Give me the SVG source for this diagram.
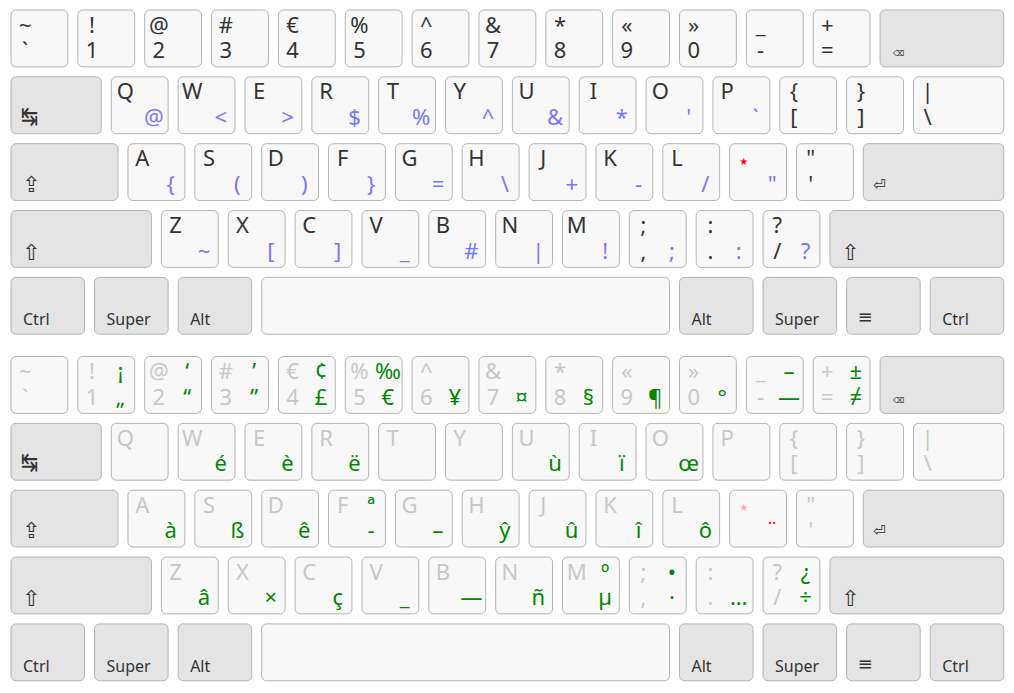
<svg xmlns="http://www.w3.org/2000/svg" width="1014" height="693" viewBox="0 0 1014 693">
<style>
text{font-family:"Noto Sans","DejaVu Sans",sans-serif;font-size:22px;fill:#333;text-anchor:middle}
rect{rx:5px;ry:5px;stroke:#b4b4b4;stroke-width:1}
.k{fill:#f8f8f8}
.m{fill:#e4e4e4}
.mt{font-size:16px;text-anchor:start}
.sym{font-family:"DejaVu Sans",sans-serif;text-anchor:start}
.bs{font-size:8px}
.ent{font-size:15px}
.sh{font-size:22px}
.tb{font-size:26px}
.mn{font-size:18px}
.b{fill:#7777ff}
.g{fill:#c8c8c8}
.gr{fill:#008800}
.st{font-family:"DejaVu Sans",sans-serif;font-size:10px;fill:#f00}
.stp{fill:#ffaaaa}
.rd{fill:#f00}
</style>
<g id="layer-base">
<g id="t-grave" transform="translate(11,10)"><rect class="k" width="56.85" height="56.85"/><text x="14.2" y="22.5">~</text><text x="14.2" y="48">`</text></g>
<g id="t-1" transform="translate(77.85,10)"><rect class="k" width="56.85" height="56.85"/><text x="14.2" y="22.5">!</text><text x="14.2" y="48">1</text></g>
<g id="t-2" transform="translate(144.7,10)"><rect class="k" width="56.85" height="56.85"/><text x="14.2" y="22.5">@</text><text x="14.2" y="48">2</text></g>
<g id="t-3" transform="translate(211.55,10)"><rect class="k" width="56.85" height="56.85"/><text x="14.2" y="22.5">#</text><text x="14.2" y="48">3</text></g>
<g id="t-4" transform="translate(278.4,10)"><rect class="k" width="56.85" height="56.85"/><text x="14.2" y="22.5">€</text><text x="14.2" y="48">4</text></g>
<g id="t-5" transform="translate(345.25,10)"><rect class="k" width="56.85" height="56.85"/><text x="14.2" y="22.5">%</text><text x="14.2" y="48">5</text></g>
<g id="t-6" transform="translate(412.1,10)"><rect class="k" width="56.85" height="56.85"/><text x="14.2" y="22.5">^</text><text x="14.2" y="48">6</text></g>
<g id="t-7" transform="translate(478.95,10)"><rect class="k" width="56.85" height="56.85"/><text x="14.2" y="22.5">&amp;</text><text x="14.2" y="48">7</text></g>
<g id="t-8" transform="translate(545.8,10)"><rect class="k" width="56.85" height="56.85"/><text x="14.2" y="22.5">*</text><text x="14.2" y="48">8</text></g>
<g id="t-9" transform="translate(612.65,10)"><rect class="k" width="56.85" height="56.85"/><text x="14.2" y="22.5">«</text><text x="14.2" y="48">9</text></g>
<g id="t-0" transform="translate(679.5,10)"><rect class="k" width="56.85" height="56.85"/><text x="14.2" y="22.5">»</text><text x="14.2" y="48">0</text></g>
<g id="t-minus" transform="translate(746.35,10)"><rect class="k" width="56.85" height="56.85"/><text x="14.2" y="22.5">_</text><text x="14.2" y="48">-</text></g>
<g id="t-equal" transform="translate(813.2,10)"><rect class="k" width="56.85" height="56.85"/><text x="14.2" y="22.5">+</text><text x="14.2" y="48">=</text></g>
<g id="t-bksp" transform="translate(880.05,10)"><rect class="m" width="123.7" height="56.85"/><text class="sym bs" x="13" y="46">⌫</text></g>

<g id="t-tab" transform="translate(11,76.85)"><rect class="m" width="90.28" height="56.85"/><text class="sym tb" transform="translate(10,48) scale(0.8,1)">↹</text></g>
<g id="t-q" transform="translate(111.28,76.85)"><rect class="k" width="56.85" height="56.85"/><text x="14.2" y="22.5">Q</text><text class="b" x="42.6" y="48">@</text></g>
<g id="t-w" transform="translate(178.13,76.85)"><rect class="k" width="56.85" height="56.85"/><text x="14.2" y="22.5">W</text><text class="b" x="42.6" y="48">&lt;</text></g>
<g id="t-e" transform="translate(244.98,76.85)"><rect class="k" width="56.85" height="56.85"/><text x="14.2" y="22.5">E</text><text class="b" x="42.6" y="48">&gt;</text></g>
<g id="t-r" transform="translate(311.83,76.85)"><rect class="k" width="56.85" height="56.85"/><text x="14.2" y="22.5">R</text><text class="b" x="42.6" y="48">$</text></g>
<g id="t-t" transform="translate(378.68,76.85)"><rect class="k" width="56.85" height="56.85"/><text x="14.2" y="22.5">T</text><text class="b" x="42.6" y="48">%</text></g>
<g id="t-y" transform="translate(445.53,76.85)"><rect class="k" width="56.85" height="56.85"/><text x="14.2" y="22.5">Y</text><text class="b" x="42.6" y="48">^</text></g>
<g id="t-u" transform="translate(512.38,76.85)"><rect class="k" width="56.85" height="56.85"/><text x="14.2" y="22.5">U</text><text class="b" x="42.6" y="48">&amp;</text></g>
<g id="t-i" transform="translate(579.23,76.85)"><rect class="k" width="56.85" height="56.85"/><text x="14.2" y="22.5">I</text><text class="b" x="42.6" y="48">*</text></g>
<g id="t-o" transform="translate(646.08,76.85)"><rect class="k" width="56.85" height="56.85"/><text x="14.2" y="22.5">O</text><text class="b" x="42.6" y="48">'</text></g>
<g id="t-p" transform="translate(712.93,76.85)"><rect class="k" width="56.85" height="56.85"/><text x="14.2" y="22.5">P</text><text class="b" x="42.6" y="48">`</text></g>
<g id="t-lbracket" transform="translate(779.78,76.85)"><rect class="k" width="56.85" height="56.85"/><text x="14.2" y="22.5">{</text><text x="14.2" y="48">[</text></g>
<g id="t-rbracket" transform="translate(846.63,76.85)"><rect class="k" width="56.85" height="56.85"/><text x="14.2" y="22.5">}</text><text x="14.2" y="48">]</text></g>
<g id="t-backslash" transform="translate(913.48,76.85)"><rect class="k" width="90.28" height="56.85"/><text x="14.2" y="22.5">|</text><text x="14.2" y="48">\</text></g>

<g id="t-caps" transform="translate(11,143.7)"><rect class="m" width="106.99" height="56.85"/><text class="sym sh" x="11" y="48">⇪</text></g>
<g id="t-a" transform="translate(127.99,143.7)"><rect class="k" width="56.85" height="56.85"/><text x="14.2" y="22.5">A</text><text class="b" x="42.6" y="48">{</text></g>
<g id="t-s" transform="translate(194.84,143.7)"><rect class="k" width="56.85" height="56.85"/><text x="14.2" y="22.5">S</text><text class="b" x="42.6" y="48">(</text></g>
<g id="t-d" transform="translate(261.69,143.7)"><rect class="k" width="56.85" height="56.85"/><text x="14.2" y="22.5">D</text><text class="b" x="42.6" y="48">)</text></g>
<g id="t-f" transform="translate(328.54,143.7)"><rect class="k" width="56.85" height="56.85"/><text x="14.2" y="22.5">F</text><text class="b" x="42.6" y="48">}</text></g>
<g id="t-g" transform="translate(395.39,143.7)"><rect class="k" width="56.85" height="56.85"/><text x="14.2" y="22.5">G</text><text class="b" x="42.6" y="48">=</text></g>
<g id="t-h" transform="translate(462.24,143.7)"><rect class="k" width="56.85" height="56.85"/><text x="14.2" y="22.5">H</text><text class="b" x="42.6" y="48">\</text></g>
<g id="t-j" transform="translate(529.09,143.7)"><rect class="k" width="56.85" height="56.85"/><text x="14.2" y="22.5">J</text><text class="b" x="42.6" y="48">+</text></g>
<g id="t-k" transform="translate(595.94,143.7)"><rect class="k" width="56.85" height="56.85"/><text x="14.2" y="22.5">K</text><text class="b" x="42.6" y="48">-</text></g>
<g id="t-l" transform="translate(662.79,143.7)"><rect class="k" width="56.85" height="56.85"/><text x="14.2" y="22.5">L</text><text class="b" x="42.6" y="48">/</text></g>
<g id="t-star" transform="translate(729.64,143.7)"><rect class="k" width="56.85" height="56.85"/><text class="st" x="14.2" y="21">★</text><text class="b" x="42.6" y="48">"</text></g>
<g id="t-quote" transform="translate(796.49,143.7)"><rect class="k" width="56.85" height="56.85"/><text x="14.2" y="22.5">"</text><text x="14.2" y="48">'</text></g>
<g id="t-enter" transform="translate(863.34,143.7)"><rect class="m" width="140.41" height="56.85"/><text class="sym ent" x="10" y="46">⏎</text></g>

<g id="t-lshift" transform="translate(11,210.55)"><rect class="m" width="140.41" height="56.85"/><text class="sym sh" x="11" y="49">⇧</text></g>
<g id="t-z" transform="translate(161.41,210.55)"><rect class="k" width="56.85" height="56.85"/><text x="14.2" y="22.5">Z</text><text class="b" x="42.6" y="48">~</text></g>
<g id="t-x" transform="translate(228.26,210.55)"><rect class="k" width="56.85" height="56.85"/><text x="14.2" y="22.5">X</text><text class="b" x="42.6" y="48">[</text></g>
<g id="t-c" transform="translate(295.11,210.55)"><rect class="k" width="56.85" height="56.85"/><text x="14.2" y="22.5">C</text><text class="b" x="42.6" y="48">]</text></g>
<g id="t-v" transform="translate(361.96,210.55)"><rect class="k" width="56.85" height="56.85"/><text x="14.2" y="22.5">V</text><text class="b" x="42.6" y="48">_</text></g>
<g id="t-b" transform="translate(428.81,210.55)"><rect class="k" width="56.85" height="56.85"/><text x="14.2" y="22.5">B</text><text class="b" x="42.6" y="48">#</text></g>
<g id="t-n" transform="translate(495.66,210.55)"><rect class="k" width="56.85" height="56.85"/><text x="14.2" y="22.5">N</text><text class="b" x="42.6" y="48">|</text></g>
<g id="t-m" transform="translate(562.51,210.55)"><rect class="k" width="56.85" height="56.85"/><text x="14.2" y="22.5">M</text><text class="b" x="42.6" y="48">!</text></g>
<g id="t-comma" transform="translate(629.36,210.55)"><rect class="k" width="56.85" height="56.85"/><text x="14.2" y="22.5">;</text><text x="14.2" y="48">,</text><text class="b" x="42.6" y="48">;</text></g>
<g id="t-period" transform="translate(696.21,210.55)"><rect class="k" width="56.85" height="56.85"/><text x="14.2" y="22.5">:</text><text x="14.2" y="48">.</text><text class="b" x="42.6" y="48">:</text></g>
<g id="t-slash" transform="translate(763.06,210.55)"><rect class="k" width="56.85" height="56.85"/><text x="14.2" y="22.5">?</text><text x="14.2" y="48">/</text><text class="b" x="42.6" y="48">?</text></g>
<g id="t-rshift" transform="translate(829.91,210.55)"><rect class="m" width="173.84" height="56.85"/><text class="sym sh" x="11" y="49">⇧</text></g>

<g id="t-lctrl" transform="translate(11,277.4)"><rect class="m" width="73.56" height="56.85"/><text class="mt" x="12" y="48">Ctrl</text></g>
<g id="t-lsuper" transform="translate(94.56,277.4)"><rect class="m" width="73.56" height="56.85"/><text class="mt" x="12" y="48">Super</text></g>
<g id="t-lalt" transform="translate(178.13,277.4)"><rect class="m" width="73.56" height="56.85"/><text class="mt" x="12" y="48">Alt</text></g>
<g id="t-space" transform="translate(261.69,277.4)"><rect class="k" width="407.81" height="56.85"/></g>
<g id="t-ralt" transform="translate(679.5,277.4)"><rect class="m" width="73.56" height="56.85"/><text class="mt" x="12" y="48">Alt</text></g>
<g id="t-rsuper" transform="translate(763.06,277.4)"><rect class="m" width="73.56" height="56.85"/><text class="mt" x="12" y="48">Super</text></g>
<g id="t-menu" transform="translate(846.63,277.4)"><rect class="m" width="73.56" height="56.85"/><text class="mt mn" x="11" y="46">≡</text></g>
<g id="t-rctrl" transform="translate(930.19,277.4)"><rect class="m" width="73.56" height="56.85"/><text class="mt" x="12" y="48">Ctrl</text></g>
</g>

<g id="layer-altgr" transform="translate(0,346.5)">
<g id="a-grave" transform="translate(11,10)"><rect class="k" width="56.85" height="56.85"/><text class="g" x="14.2" y="22.5">~</text><text class="g" x="14.2" y="48">`</text></g>
<g id="a-1" transform="translate(77.85,10)"><rect class="k" width="56.85" height="56.85"/><text class="g" x="14.2" y="22.5">!</text><text class="g" x="14.2" y="48">1</text><text class="gr" x="42.6" y="22.5">¡</text><text class="gr" x="42.6" y="48">„</text></g>
<g id="a-2" transform="translate(144.7,10)"><rect class="k" width="56.85" height="56.85"/><text class="g" x="14.2" y="22.5">@</text><text class="g" x="14.2" y="48">2</text><text class="gr" x="42.6" y="22.5">‘</text><text class="gr" x="42.6" y="48">“</text></g>
<g id="a-3" transform="translate(211.55,10)"><rect class="k" width="56.85" height="56.85"/><text class="g" x="14.2" y="22.5">#</text><text class="g" x="14.2" y="48">3</text><text class="gr" x="42.6" y="22.5">’</text><text class="gr" x="42.6" y="48">”</text></g>
<g id="a-4" transform="translate(278.4,10)"><rect class="k" width="56.85" height="56.85"/><text class="g" x="14.2" y="22.5">€</text><text class="g" x="14.2" y="48">4</text><text class="gr" x="42.6" y="22.5">¢</text><text class="gr" x="42.6" y="48">£</text></g>
<g id="a-5" transform="translate(345.25,10)"><rect class="k" width="56.85" height="56.85"/><text class="g" x="14.2" y="22.5">%</text><text class="g" x="14.2" y="48">5</text><text class="gr" x="42.6" y="22.5">‰</text><text class="gr" x="42.6" y="48">€</text></g>
<g id="a-6" transform="translate(412.1,10)"><rect class="k" width="56.85" height="56.85"/><text class="g" x="14.2" y="22.5">^</text><text class="g" x="14.2" y="48">6</text><text class="gr" x="42.6" y="48">¥</text></g>
<g id="a-7" transform="translate(478.95,10)"><rect class="k" width="56.85" height="56.85"/><text class="g" x="14.2" y="22.5">&amp;</text><text class="g" x="14.2" y="48">7</text><text class="gr" x="42.6" y="48">¤</text></g>
<g id="a-8" transform="translate(545.8,10)"><rect class="k" width="56.85" height="56.85"/><text class="g" x="14.2" y="22.5">*</text><text class="g" x="14.2" y="48">8</text><text class="gr" x="42.6" y="48">§</text></g>
<g id="a-9" transform="translate(612.65,10)"><rect class="k" width="56.85" height="56.85"/><text class="g" x="14.2" y="22.5">«</text><text class="g" x="14.2" y="48">9</text><text class="gr" x="42.6" y="48">¶</text></g>
<g id="a-0" transform="translate(679.5,10)"><rect class="k" width="56.85" height="56.85"/><text class="g" x="14.2" y="22.5">»</text><text class="g" x="14.2" y="48">0</text><text class="gr" x="42.6" y="48">°</text></g>
<g id="a-minus" transform="translate(746.35,10)"><rect class="k" width="56.85" height="56.85"/><text class="g" x="14.2" y="22.5">_</text><text class="g" x="14.2" y="48">-</text><text class="gr" x="42.6" y="22.5">–</text><text class="gr" x="42.6" y="48">—</text></g>
<g id="a-equal" transform="translate(813.2,10)"><rect class="k" width="56.85" height="56.85"/><text class="g" x="14.2" y="22.5">+</text><text class="g" x="14.2" y="48">=</text><text class="gr" x="42.6" y="22.5">±</text><text class="gr" x="42.6" y="48">≠</text></g>
<g id="a-bksp" transform="translate(880.05,10)"><rect class="m" width="123.7" height="56.85"/><text class="sym bs" x="13" y="46">⌫</text></g>

<g id="a-tab" transform="translate(11,76.85)"><rect class="m" width="90.28" height="56.85"/><text class="sym tb" transform="translate(10,48) scale(0.8,1)">↹</text></g>
<g id="a-q" transform="translate(111.28,76.85)"><rect class="k" width="56.85" height="56.85"/><text class="g" x="14.2" y="22.5">Q</text></g>
<g id="a-w" transform="translate(178.13,76.85)"><rect class="k" width="56.85" height="56.85"/><text class="g" x="14.2" y="22.5">W</text><text class="gr" x="42.6" y="48">é</text></g>
<g id="a-e" transform="translate(244.98,76.85)"><rect class="k" width="56.85" height="56.85"/><text class="g" x="14.2" y="22.5">E</text><text class="gr" x="42.6" y="48">è</text></g>
<g id="a-r" transform="translate(311.83,76.85)"><rect class="k" width="56.85" height="56.85"/><text class="g" x="14.2" y="22.5">R</text><text class="gr" x="42.6" y="48">ë</text></g>
<g id="a-t" transform="translate(378.68,76.85)"><rect class="k" width="56.85" height="56.85"/><text class="g" x="14.2" y="22.5">T</text></g>
<g id="a-y" transform="translate(445.53,76.85)"><rect class="k" width="56.85" height="56.85"/><text class="g" x="14.2" y="22.5">Y</text></g>
<g id="a-u" transform="translate(512.38,76.85)"><rect class="k" width="56.85" height="56.85"/><text class="g" x="14.2" y="22.5">U</text><text class="gr" x="42.6" y="48">ù</text></g>
<g id="a-i" transform="translate(579.23,76.85)"><rect class="k" width="56.85" height="56.85"/><text class="g" x="14.2" y="22.5">I</text><text class="gr" x="42.6" y="48">ï</text></g>
<g id="a-o" transform="translate(646.08,76.85)"><rect class="k" width="56.85" height="56.85"/><text class="g" x="14.2" y="22.5">O</text><text class="gr" x="42.6" y="48">œ</text></g>
<g id="a-p" transform="translate(712.93,76.85)"><rect class="k" width="56.85" height="56.85"/><text class="g" x="14.2" y="22.5">P</text></g>
<g id="a-lbracket" transform="translate(779.78,76.85)"><rect class="k" width="56.85" height="56.85"/><text class="g" x="14.2" y="22.5">{</text><text class="g" x="14.2" y="48">[</text></g>
<g id="a-rbracket" transform="translate(846.63,76.85)"><rect class="k" width="56.85" height="56.85"/><text class="g" x="14.2" y="22.5">}</text><text class="g" x="14.2" y="48">]</text></g>
<g id="a-backslash" transform="translate(913.48,76.85)"><rect class="k" width="90.28" height="56.85"/><text class="g" x="14.2" y="22.5">|</text><text class="g" x="14.2" y="48">\</text></g>

<g id="a-caps" transform="translate(11,143.7)"><rect class="m" width="106.99" height="56.85"/><text class="sym sh" x="11" y="48">⇪</text></g>
<g id="a-a" transform="translate(127.99,143.7)"><rect class="k" width="56.85" height="56.85"/><text class="g" x="14.2" y="22.5">A</text><text class="gr" x="42.6" y="48">à</text></g>
<g id="a-s" transform="translate(194.84,143.7)"><rect class="k" width="56.85" height="56.85"/><text class="g" x="14.2" y="22.5">S</text><text class="gr" x="42.6" y="48">ß</text></g>
<g id="a-d" transform="translate(261.69,143.7)"><rect class="k" width="56.85" height="56.85"/><text class="g" x="14.2" y="22.5">D</text><text class="gr" x="42.6" y="48">ê</text></g>
<g id="a-f" transform="translate(328.54,143.7)"><rect class="k" width="56.85" height="56.85"/><text class="g" x="14.2" y="22.5">F</text><text class="gr" x="42.6" y="22.5">ª</text><text class="gr" x="42.6" y="48">-</text></g>
<g id="a-g" transform="translate(395.39,143.7)"><rect class="k" width="56.85" height="56.85"/><text class="g" x="14.2" y="22.5">G</text><text class="gr" x="42.6" y="48">–</text></g>
<g id="a-h" transform="translate(462.24,143.7)"><rect class="k" width="56.85" height="56.85"/><text class="g" x="14.2" y="22.5">H</text><text class="gr" x="42.6" y="48">ŷ</text></g>
<g id="a-j" transform="translate(529.09,143.7)"><rect class="k" width="56.85" height="56.85"/><text class="g" x="14.2" y="22.5">J</text><text class="gr" x="42.6" y="48">û</text></g>
<g id="a-k" transform="translate(595.94,143.7)"><rect class="k" width="56.85" height="56.85"/><text class="g" x="14.2" y="22.5">K</text><text class="gr" x="42.6" y="48">î</text></g>
<g id="a-l" transform="translate(662.79,143.7)"><rect class="k" width="56.85" height="56.85"/><text class="g" x="14.2" y="22.5">L</text><text class="gr" x="42.6" y="48">ô</text></g>
<g id="a-star" transform="translate(729.64,143.7)"><rect class="k" width="56.85" height="56.85"/><text class="st stp" x="14.2" y="21">★</text><text class="rd" x="42.6" y="48">¨</text></g>
<g id="a-quote" transform="translate(796.49,143.7)"><rect class="k" width="56.85" height="56.85"/><text class="g" x="14.2" y="22.5">"</text><text class="g" x="14.2" y="48">'</text></g>
<g id="a-enter" transform="translate(863.34,143.7)"><rect class="m" width="140.41" height="56.85"/><text class="sym ent" x="10" y="46">⏎</text></g>

<g id="a-lshift" transform="translate(11,210.55)"><rect class="m" width="140.41" height="56.85"/><text class="sym sh" x="11" y="49">⇧</text></g>
<g id="a-z" transform="translate(161.41,210.55)"><rect class="k" width="56.85" height="56.85"/><text class="g" x="14.2" y="22.5">Z</text><text class="gr" x="42.6" y="48">â</text></g>
<g id="a-x" transform="translate(228.26,210.55)"><rect class="k" width="56.85" height="56.85"/><text class="g" x="14.2" y="22.5">X</text><text class="gr" x="42.6" y="48">×</text></g>
<g id="a-c" transform="translate(295.11,210.55)"><rect class="k" width="56.85" height="56.85"/><text class="g" x="14.2" y="22.5">C</text><text class="gr" x="42.6" y="48">ç</text></g>
<g id="a-v" transform="translate(361.96,210.55)"><rect class="k" width="56.85" height="56.85"/><text class="g" x="14.2" y="22.5">V</text><text class="gr" x="42.6" y="48">_</text></g>
<g id="a-b" transform="translate(428.81,210.55)"><rect class="k" width="56.85" height="56.85"/><text class="g" x="14.2" y="22.5">B</text><text class="gr" x="42.6" y="48">—</text></g>
<g id="a-n" transform="translate(495.66,210.55)"><rect class="k" width="56.85" height="56.85"/><text class="g" x="14.2" y="22.5">N</text><text class="gr" x="42.6" y="48">ñ</text></g>
<g id="a-m" transform="translate(562.51,210.55)"><rect class="k" width="56.85" height="56.85"/><text class="g" x="14.2" y="22.5">M</text><text class="gr" x="42.6" y="22.5">º</text><text class="gr" x="42.6" y="48">µ</text></g>
<g id="a-comma" transform="translate(629.36,210.55)"><rect class="k" width="56.85" height="56.85"/><text class="g" x="14.2" y="22.5">;</text><text class="g" x="14.2" y="48">,</text><text class="gr" x="42.6" y="22.5">•</text><text class="gr" x="42.6" y="48">·</text></g>
<g id="a-period" transform="translate(696.21,210.55)"><rect class="k" width="56.85" height="56.85"/><text class="g" x="14.2" y="22.5">:</text><text class="g" x="14.2" y="48">.</text><text class="gr" x="42.6" y="48">…</text></g>
<g id="a-slash" transform="translate(763.06,210.55)"><rect class="k" width="56.85" height="56.85"/><text class="g" x="14.2" y="22.5">?</text><text class="g" x="14.2" y="48">/</text><text class="gr" x="42.6" y="22.5">¿</text><text class="gr" x="42.6" y="48">÷</text></g>
<g id="a-rshift" transform="translate(829.91,210.55)"><rect class="m" width="173.84" height="56.85"/><text class="sym sh" x="11" y="49">⇧</text></g>

<g id="a-lctrl" transform="translate(11,277.4)"><rect class="m" width="73.56" height="56.85"/><text class="mt" x="12" y="48">Ctrl</text></g>
<g id="a-lsuper" transform="translate(94.56,277.4)"><rect class="m" width="73.56" height="56.85"/><text class="mt" x="12" y="48">Super</text></g>
<g id="a-lalt" transform="translate(178.13,277.4)"><rect class="m" width="73.56" height="56.85"/><text class="mt" x="12" y="48">Alt</text></g>
<g id="a-space" transform="translate(261.69,277.4)"><rect class="k" width="407.81" height="56.85"/></g>
<g id="a-ralt" transform="translate(679.5,277.4)"><rect class="m" width="73.56" height="56.85"/><text class="mt" x="12" y="48">Alt</text></g>
<g id="a-rsuper" transform="translate(763.06,277.4)"><rect class="m" width="73.56" height="56.85"/><text class="mt" x="12" y="48">Super</text></g>
<g id="a-menu" transform="translate(846.63,277.4)"><rect class="m" width="73.56" height="56.85"/><text class="mt mn" x="11" y="46">≡</text></g>
<g id="a-rctrl" transform="translate(930.19,277.4)"><rect class="m" width="73.56" height="56.85"/><text class="mt" x="12" y="48">Ctrl</text></g>
</g>
</svg>
